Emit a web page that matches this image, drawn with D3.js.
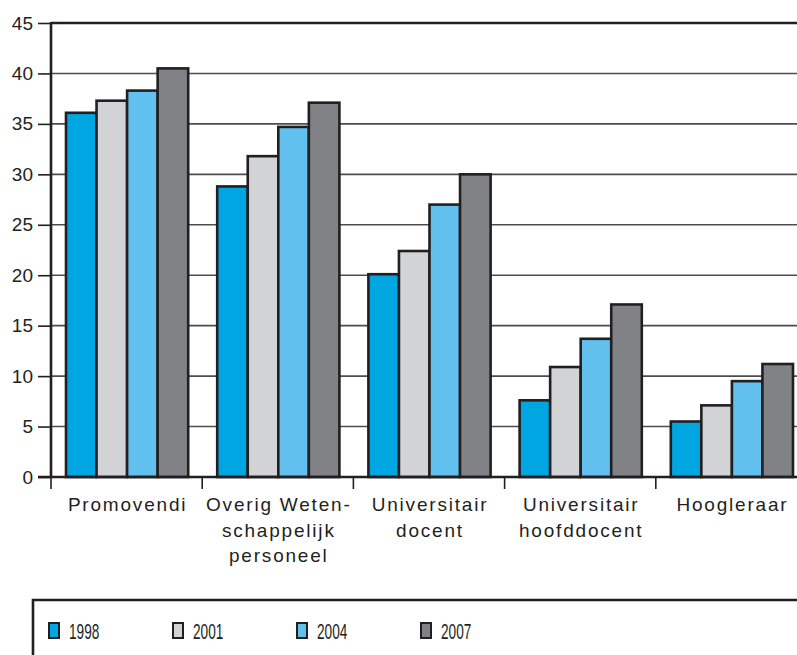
<!DOCTYPE html>
<html>
<head>
<meta charset="utf-8">
<script src="https://cdn.jsdelivr.net/npm/d3@7"></script>
<style>
  body { margin: 0; background: #fff; }
  svg { display: block; }
</style>
</head>
<body>
<div id="chart"></div>
<script>
// Data
const categories = ["Promovendi", "Overig Weten-|schappelijk|personeel", "Universitair|docent", "Universitair|hoofddocent", "Hoogleraar"];
const years = ["1998", "2001", "2004", "2007"];
const v1998 = [36.1, 28.8, 20.1, 7.6, 5.5];
const v2001 = [37.3, 31.8, 22.4, 10.9, 7.1];
const v2004 = [38.3, 34.7, 27.0, 13.7, 9.5];
const v2007 = [40.5, 37.1, 30.0, 17.1, 11.2];
const yTicks = [0, 5, 10, 15, 20, 25, 30, 35, 40, 45];

const colors = ["#00a6e2", "#d1d3d4", "#62c0ee", "#808285"];
const series = [v1998, v2001, v2004, v2007];

const width = 797, height = 655;
const plotLeft = 51, plotTop = 23, plotBottom = 477;
const band = 151.2;

const svg = d3.select("#chart").append("svg")
    .attr("width", width)
    .attr("height", height);

const x = d3.scaleBand()
    .domain(d3.range(categories.length))
    .range([plotLeft, plotLeft + band * categories.length])
    .paddingInner(0)
    .paddingOuter(0);

const x1 = d3.scaleBand()
    .domain(d3.range(years.length))
    .range([15, band - 14]);

const y = d3.scaleLinear().domain([0, 45]).range([plotBottom, plotTop]);

// grid lines
svg.append("g")
    .selectAll("line")
    .data(yTicks.filter(d => d > 0))
    .join("line")
    .attr("x1", plotLeft)
    .attr("x2", width)
    .attr("y1", d => y(d))
    .attr("y2", d => y(d))
    .attr("stroke", d => d === 45 ? "#231f20" : "#4d4d4f")
    .attr("stroke-width", d => d === 45 ? 2.5 : 1.6);

// bars
const groups = svg.append("g")
    .selectAll("g")
    .data(categories)
    .join("g")
    .attr("transform", (d, i) => `translate(${x(i)},0)`);

groups.selectAll("rect")
    .data((d, i) => series.map((s, j) => ({ j: j, v: s[i] })))
    .join("rect")
    .attr("x", d => x1(d.j))
    .attr("width", x1.bandwidth())
    .attr("y", d => y(d.v))
    .attr("height", d => y(0) - y(d.v))
    .attr("fill", d => colors[d.j])
    .attr("stroke", "#231f20")
    .attr("stroke-width", 2.6);

// y axis
const yAxis = svg.append("g")
    .attr("transform", `translate(${plotLeft},0)`)
    .call(d3.axisLeft(y).tickValues(yTicks).tickSize(13).tickPadding(5));
yAxis.select(".domain").remove();
yAxis.selectAll(".tick line").attr("stroke", "#231f20").attr("stroke-width", 1.6);
yAxis.selectAll(".tick text")
    .attr("font-family", "Liberation Sans, Arial, sans-serif")
    .attr("font-size", 19)
    .attr("fill", "#231f20");

svg.append("line")
    .attr("x1", plotLeft).attr("x2", plotLeft)
    .attr("y1", plotTop - 1).attr("y2", plotBottom + 1)
    .attr("stroke", "#231f20").attr("stroke-width", 2.6);

// x axis
svg.append("line")
    .attr("x1", plotLeft - 13).attr("x2", width)
    .attr("y1", plotBottom).attr("y2", plotBottom)
    .attr("stroke", "#231f20").attr("stroke-width", 2.6);

svg.append("g")
    .selectAll("line")
    .data(d3.range(categories.length))
    .join("line")
    .attr("x1", d => x(d))
    .attr("x2", d => x(d))
    .attr("y1", plotBottom)
    .attr("y2", plotBottom + 12)
    .attr("stroke", "#231f20")
    .attr("stroke-width", 1.6);

const labels = svg.append("g")
    .selectAll("text")
    .data(categories)
    .join("text")
    .attr("x", (d, i) => x(i) + band / 2 + 1)
    .attr("y", 511)
    .attr("text-anchor", "middle")
    .attr("font-family", "Liberation Sans, Arial, sans-serif")
    .attr("font-size", 19)
    .attr("letter-spacing", 1.8)
    .attr("fill", "#231f20");

labels.selectAll("tspan")
    .data(d => d.split("|"))
    .join("tspan")
    .attr("x", function() { return this.parentNode.getAttribute("x"); })
    .attr("dy", (d, i) => i === 0 ? 0 : 25.5)
    .text(d => d);

// legend
svg.append("path")
    .attr("d", `M33,${height + 5}V600H${width + 5}`)
    .attr("fill", "none")
    .attr("stroke", "#231f20")
    .attr("stroke-width", 2.6);

const legend = svg.append("g")
    .selectAll("g")
    .data(years)
    .join("g")
    .attr("transform", (d, i) => `translate(${49 + i * 124},623)`);

legend.append("rect")
    .attr("width", 10)
    .attr("height", 15)
    .attr("fill", (d, i) => colors[i])
    .attr("stroke", "#231f20")
    .attr("stroke-width", 2);

legend.append("text")
    .attr("transform", "translate(20,16) scale(0.62,1)")
    .attr("font-family", "Liberation Sans, Arial, sans-serif")
    .attr("font-size", 22)
    .attr("fill", "#231f20")
    .text(d => d);
</script>
</body>
</html>
